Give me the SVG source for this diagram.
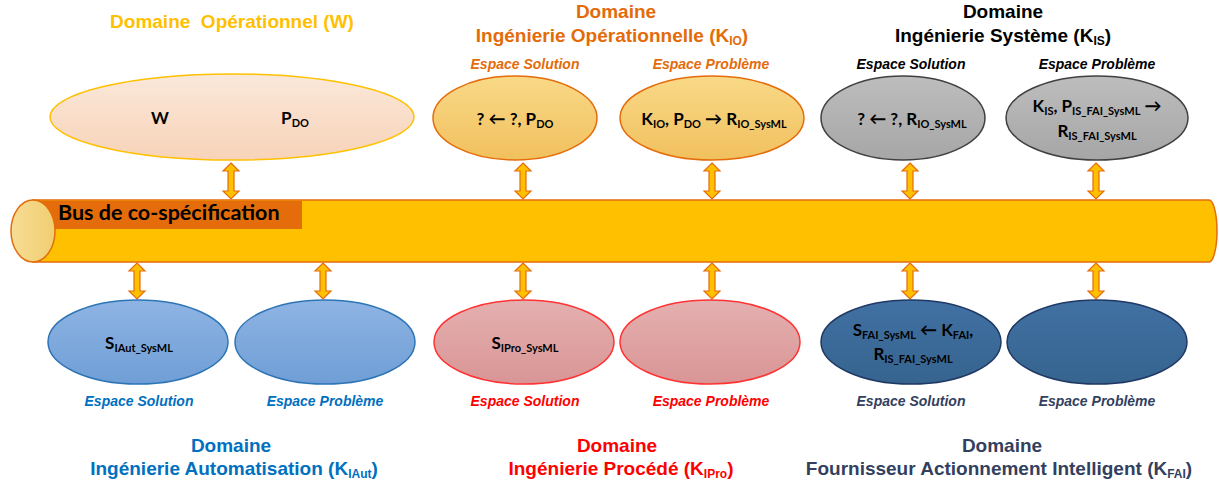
<svg xmlns="http://www.w3.org/2000/svg" width="1219" height="484" viewBox="0 0 1219 484">
<style>
.t{font-family:"Liberation Sans",Arial,sans-serif;font-weight:bold;font-size:19px;text-anchor:middle}
.ts{font-size:12px}
.e{font-family:"Liberation Sans",Arial,sans-serif;font-weight:bold;font-style:italic;font-size:14px;text-anchor:middle}
.in{font-family:Lato,"Liberation Sans",sans-serif;font-weight:bold;font-size:17px;text-anchor:middle;fill:#000}
.s{font-size:11px}
.arr{fill:#FFC000;stroke:#E46C0A;stroke-width:1.2;stroke-linejoin:miter}
</style>
<defs>
<linearGradient id="gW" x1="0" y1="0" x2="0" y2="1"><stop offset="0" stop-color="#FBE8DA"/><stop offset="1" stop-color="#F7D3B8"/></linearGradient>
<linearGradient id="gO" x1="0" y1="0" x2="0" y2="1"><stop offset="0" stop-color="#F9D987"/><stop offset="1" stop-color="#F1C05E"/></linearGradient>
<linearGradient id="gG" x1="0" y1="0" x2="0" y2="1"><stop offset="0" stop-color="#BDBDBD"/><stop offset="1" stop-color="#A6A6A6"/></linearGradient>
<linearGradient id="gB" x1="0" y1="0" x2="0" y2="1"><stop offset="0" stop-color="#8EB4E3"/><stop offset="1" stop-color="#6F9ED6"/></linearGradient>
<linearGradient id="gR" x1="0" y1="0" x2="0" y2="1"><stop offset="0" stop-color="#E5B0B0"/><stop offset="1" stop-color="#D99595"/></linearGradient>
<linearGradient id="gD" x1="0" y1="0" x2="0" y2="1"><stop offset="0" stop-color="#4171A3"/><stop offset="1" stop-color="#36648F"/></linearGradient>
<linearGradient id="gE" x1="0" y1="0" x2="1" y2="0"><stop offset="0" stop-color="#F7DC95"/><stop offset="1" stop-color="#F0CE70"/></linearGradient>
<path id="da" d="M0,0 L8,8 L3,8 L3,28 L8,28 L0,36 L-8,28 L-3,28 L-3,8 L-8,8 Z"/>
</defs>

<!-- Bus -->
<g id="bus">
<path d="M33,200 H1209 A8,31 0 0 1 1209,262 H33 Z" fill="#FFC000" stroke="#E46C0A" stroke-width="1.5"/>
<rect x="33" y="201" width="269" height="28" fill="#E46C0A"/>
<ellipse cx="33" cy="231" rx="22" ry="31" fill="url(#gE)" stroke="#E46C0A" stroke-width="1.5"/>
<text x="58" y="220" font-family="Lato,'Liberation Sans',sans-serif" font-weight="bold" font-size="21.5" fill="#000">Bus de co-spécification</text>
</g>

<!-- Connectors -->
<g id="connectors">
<use href="#da" class="arr" x="231" y="163"/>
<use href="#da" class="arr" x="523" y="163"/>
<use href="#da" class="arr" x="712" y="163"/>
<use href="#da" class="arr" x="910" y="163"/>
<use href="#da" class="arr" x="1096" y="163"/>
<use href="#da" class="arr" x="137" y="263"/>
<use href="#da" class="arr" x="323" y="263"/>
<use href="#da" class="arr" x="523" y="263"/>
<use href="#da" class="arr" x="712" y="263"/>
<use href="#da" class="arr" x="910" y="263"/>
<use href="#da" class="arr" x="1096" y="263"/>
</g>

<!-- Domaine Opérationnel -->
<g id="domW">
<text class="t" x="232" y="28" fill="#FFC000" style="white-space:pre">Domaine  Opérationnel (W)</text>
<ellipse cx="232" cy="117" rx="182" ry="43" fill="url(#gW)" stroke="#FFC000" stroke-width="1.5"/>
<text class="in" x="160" y="124">W</text>
<text class="in" x="295" y="124">P<tspan class="s" dy="3">DO</tspan></text>
</g>

<!-- Domaine IO -->
<g id="domIO">
<text class="t" x="616" y="18" fill="#E36C09">Domaine</text>
<text class="t" x="612" y="42" fill="#E36C09">Ingénierie Opérationnelle (K<tspan class="ts" dy="3">IO</tspan><tspan dy="-3">)</tspan></text>
<text class="e" x="525" y="69" fill="#E36C09">Espace Solution</text>
<text class="e" x="711" y="69" fill="#E36C09">Espace Problème</text>
</g>
<g id="io-sol">
<ellipse cx="515" cy="118" rx="82" ry="42" fill="url(#gO)" stroke="#E46C0A" stroke-width="1.5"/>
<text class="in" x="515" y="125">? ← ?, P<tspan class="s" dy="3">DO</tspan></text>
</g>
<g id="io-pb">
<ellipse cx="712" cy="118" rx="92" ry="42" fill="url(#gO)" stroke="#E46C0A" stroke-width="1.5"/>
<text class="in" x="714" y="125">K<tspan class="s" dy="3">IO</tspan><tspan dy="-3">, P</tspan><tspan class="s" dy="3">DO</tspan><tspan dy="-3"> → R</tspan><tspan class="s" dy="3">IO_SysML</tspan></text>
</g>

<!-- Domaine IS -->
<g id="domIS">
<text class="t" x="1003" y="18" fill="#000">Domaine</text>
<text class="t" x="1003" y="42" fill="#000">Ingénierie Système (K<tspan class="ts" dy="3">IS</tspan><tspan dy="-3">)</tspan></text>
<text class="e" x="911" y="69" fill="#000">Espace Solution</text>
<text class="e" x="1097" y="69" fill="#000">Espace Problème</text>
</g>
<g id="is-sol">
<ellipse cx="903" cy="118" rx="82" ry="42" fill="url(#gG)" stroke="#404040" stroke-width="1.5"/>
<text class="in" x="912" y="125">? ← ?, R<tspan class="s" dy="3">IO_SysML</tspan></text>
</g>
<g id="is-pb">
<ellipse cx="1097" cy="118" rx="91" ry="42" fill="url(#gG)" stroke="#404040" stroke-width="1.5"/>
<text class="in" x="1097" y="112">K<tspan class="s" dy="3">IS</tspan><tspan dy="-3">, P</tspan><tspan class="s" dy="3">IS_FAI_SysML</tspan><tspan dy="-3"> →</tspan></text>
<text class="in" x="1097" y="137">R<tspan class="s" dy="3">IS_FAI_SysML</tspan></text>
</g>

<!-- Domaine IAut -->
<g id="aut-sol">
<ellipse cx="138" cy="342" rx="90" ry="42" fill="url(#gB)" stroke="#2E75B6" stroke-width="1.5"/>
<text class="in" x="139" y="349">S<tspan class="s" dy="3">IAut_SysML</tspan></text>
</g>
<g id="aut-pb">
<ellipse cx="325" cy="342" rx="90" ry="42" fill="url(#gB)" stroke="#2E75B6" stroke-width="1.5"/>
</g>
<g id="domAut">
<text class="e" x="139" y="406" fill="#0070C0">Espace Solution</text>
<text class="e" x="325" y="406" fill="#0070C0">Espace Problème</text>
<text class="t" x="231" y="452" fill="#0070C0">Domaine</text>
<text class="t" x="234" y="475" fill="#0070C0">Ingénierie Automatisation (K<tspan class="ts" dy="3">IAut</tspan><tspan dy="-3">)</tspan></text>
</g>

<!-- Domaine IPro -->
<g id="pro-sol">
<ellipse cx="524" cy="342" rx="90" ry="42" fill="url(#gR)" stroke="#FF3333" stroke-width="1.5"/>
<text class="in" x="525" y="349">S<tspan class="s" dy="3">IPro_SysML</tspan></text>
</g>
<g id="pro-pb">
<ellipse cx="710" cy="342" rx="90" ry="42" fill="url(#gR)" stroke="#FF3333" stroke-width="1.5"/>
</g>
<g id="domPro">
<text class="e" x="525" y="406" fill="#FF0000">Espace Solution</text>
<text class="e" x="711" y="406" fill="#FF0000">Espace Problème</text>
<text class="t" x="617" y="452" fill="#FF0000">Domaine</text>
<text class="t" x="621" y="475" fill="#FF0000">Ingénierie Procédé (K<tspan class="ts" dy="3">IPro</tspan><tspan dy="-3">)</tspan></text>
</g>

<!-- Domaine FAI -->
<g id="fai-sol">
<ellipse cx="911" cy="342" rx="90" ry="42" fill="url(#gD)" stroke="#1F3864" stroke-width="1.5"/>
<text class="in" x="913" y="336">S<tspan class="s" dy="3">FAI_SysML</tspan><tspan dy="-3"> ← K</tspan><tspan class="s" dy="3">FAI</tspan><tspan dy="-3">,</tspan></text>
<text class="in" x="913" y="360">R<tspan class="s" dy="3">IS_FAI_SysML</tspan></text>
</g>
<g id="fai-pb">
<ellipse cx="1097" cy="342" rx="90" ry="42" fill="url(#gD)" stroke="#1F3864" stroke-width="1.5"/>
</g>
<g id="domFAI">
<text class="e" x="911" y="406" fill="#333F60">Espace Solution</text>
<text class="e" x="1097" y="406" fill="#333F60">Espace Problème</text>
<text class="t" x="1002" y="452" fill="#333F60">Domaine</text>
<text class="t" x="999" y="475" fill="#333F60">Fournisseur Actionnement Intelligent (K<tspan class="ts" dy="3">FAI</tspan><tspan dy="-3">)</tspan></text>
</g>
</svg>
